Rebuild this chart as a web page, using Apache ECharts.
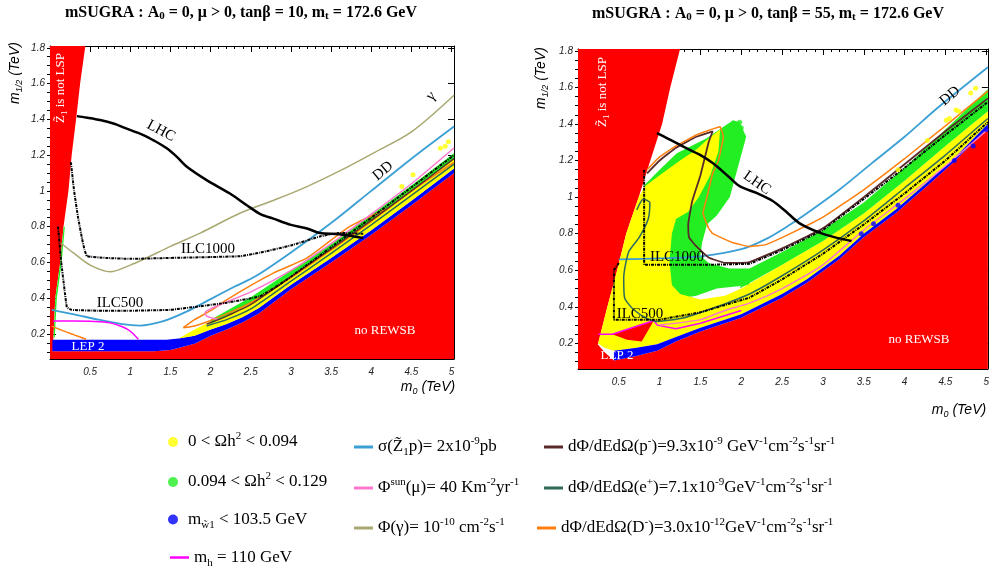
<!DOCTYPE html>
<html>
<head>
<meta charset="utf-8">
<script src="https://cdn.jsdelivr.net/npm/echarts@6/dist/echarts.min.js"></script>
<style>
html, body { margin: 0; background: #fff; }
#main { width: 992px; height: 576px; }
</style>
</head>
<body>
<div id="main"></div>
<script>
// ---- tick labels ----
var yMajor = [0.2, 0.4, 0.6, 0.8, 1.0, 1.2, 1.4, 1.6, 1.8];
var yMinor = [0.1, 0.15, 0.2, 0.25, 0.3, 0.35, 0.4, 0.45, 0.5, 0.55, 0.6, 0.65, 0.7, 0.75, 0.8, 0.85,
  0.9, 0.95, 1.0, 1.05, 1.1, 1.15, 1.2, 1.25, 1.3, 1.35, 1.4, 1.45, 1.5, 1.55, 1.6, 1.65, 1.7, 1.75, 1.8];
var xMax = [5.03, 5.02];

// ---- left panel (tan beta = 10) ----
var redWedgeL = [[0,0.1],[0,1.81],[0.44,1.81],[0.375,1.6],[0.33,1.42],[0.27,1.2],[0.23,1.0],[0.168,0.8],[0.127,0.6],[0.065,0.4],[0.044,0.2],[0.035,0.1]];
var redLowL = [[0,0.06],[0,0.104],[1.3,0.104],[1.5,0.11],[1.8,0.145],[2.0,0.19],[2.2,0.225],[2.4,0.265],[2.6,0.315],[3.0,0.45],[3.5,0.6],[4.0,0.755],[4.5,0.92],[5.03,1.1],[5.03,0.06]];
var blueL = [[0.03,0.104],[0.03,0.168],[1.45,0.168],[1.6,0.175],[1.8,0.19],[2.0,0.225],[2.2,0.255],[2.4,0.295],[2.6,0.345],[3.0,0.475],[3.5,0.625],[4.0,0.78],[4.5,0.945],[5.03,1.125],[5.03,1.1],[4.5,0.92],[4.0,0.755],[3.5,0.6],[3.0,0.45],[2.6,0.315],[2.4,0.265],[2.2,0.225],[2.0,0.19],[1.8,0.145],[1.5,0.11],[1.3,0.104]];
var yellowL = [[1.6,0.175],[1.8,0.19],[2.0,0.225],[2.2,0.255],[2.4,0.295],[2.6,0.345],[3.0,0.475],[3.5,0.625],[4.0,0.78],[4.5,0.945],[5.03,1.125],[5.03,1.2],[4.5,1.02],[4.0,0.855],[3.5,0.695],[3.0,0.545],[2.6,0.42],[2.4,0.36],[2.2,0.31],[2.0,0.27],[1.8,0.225]];
var greenL = [[2.0,0.255],[2.5,0.375],[3.0,0.525],[3.5,0.675],[4.0,0.835],[4.5,1.0],[5.03,1.18],[5.03,1.21],[4.5,1.03],[4.0,0.865],[3.5,0.705],[3.0,0.555],[2.5,0.405],[2.0,0.28]];
var greenEdgeL = [[0.045,0.18],[0.066,0.4],[0.128,0.6],[0.17,0.8],[0.185,0.8],[0.145,0.6],[0.085,0.4],[0.06,0.18]];

var lhcL = [[0.335,1.418],[0.45,1.41],[0.624,1.396],[0.8,1.375],[0.914,1.355],[1.163,1.312],[1.3,1.28],[1.454,1.238],[1.58,1.19],[1.7,1.136],[1.95,1.06],[2.24,0.985],[2.45,0.92],[2.62,0.87],[2.78,0.845],[3.0,0.81],[3.2,0.79],[3.36,0.764],[3.6,0.758],[3.9,0.737]];
var ilc1000L = [[0.26,1.16],[0.3,1.0],[0.35,0.85],[0.4,0.73],[0.43,0.67],[0.46,0.635],[0.7,0.625],[1.0,0.62],[1.5,0.625],[2.0,0.63],[2.37,0.635],[2.61,0.654],[3.0,0.695],[3.36,0.745],[3.6,0.765],[3.9,0.76]];
var ilc500L = [[0.1,0.8],[0.14,0.6],[0.18,0.45],[0.21,0.35],[0.27,0.335],[0.6,0.33],[1.0,0.33],[1.5,0.335],[1.87,0.355],[2.2,0.375],[2.61,0.41],[2.8,0.46],[3.0,0.52],[3.5,0.685],[4.0,0.85],[4.5,1.02],[5.03,1.2]];
var gammaL = [[0.13,0.71],[0.3,0.65],[0.5,0.585],[0.75,0.548],[1.0,0.585],[1.2,0.625],[1.5,0.69],[1.87,0.764],[2.37,0.876],[2.8,0.95],[3.2,1.024],[3.6,1.11],[4.02,1.21],[4.5,1.33],[5.03,1.535]];
var ddL = [[0.02,0.335],[0.3,0.31],[0.6,0.28],[0.9,0.255],[1.12,0.247],[1.4,0.27],[1.7,0.325],[2.0,0.395],[2.3,0.465],[2.57,0.525],[3.0,0.655],[3.5,0.82],[4.0,1.0],[4.5,1.18],[5.03,1.36]];
var mhL = [[0.04,0.272],[0.3,0.272],[0.55,0.27],[0.75,0.262],[0.9,0.24],[1.0,0.215],[1.1,0.17]];
var orangeL1 = [[0.02,0.244],[0.15,0.22],[0.3,0.195],[0.45,0.17]];
var orangeL2 = [[4.2,0.9],[3.73,0.8],[3.2,0.625],[2.78,0.54],[2.41,0.448],[2.2,0.39],[2.0,0.33],[1.8,0.28],[1.66,0.235],[1.8,0.245],[2.0,0.275],[2.5,0.375],[3.0,0.515],[3.5,0.67],[4.0,0.83],[4.5,1.0],[5.03,1.16]];
var pinkL = [[2.1,0.28],[1.95,0.3],[1.93,0.32],[2.1,0.36],[2.5,0.435],[3.0,0.555],[3.5,0.705],[4.0,0.87],[4.5,1.04],[5.03,1.24]];
var tealL = [[1.95,0.245],[2.2,0.28],[2.5,0.34],[3.0,0.495],[3.5,0.65],[4.0,0.81],[4.5,0.975],[5.03,1.15]];
var brownL = [[1.95,0.255],[2.2,0.3],[2.5,0.365],[3.0,0.52],[3.5,0.675],[4.0,0.835],[4.5,1.0],[5.03,1.18]];
var yDotsL = [[4.38,1.024],[4.52,1.09],[4.86,1.238],[4.96,1.275],[4.92,1.25]];

// ---- right panel (tan beta = 55) ----
var redWedgeR = [[0,0.19],[0,1.81],[1.25,1.81],[1.13,1.6],[1.03,1.4],[0.886,1.2],[0.744,1.0],[0.59,0.8],[0.48,0.6],[0.36,0.4],[0.246,0.2],[0.24,0.19]];
var redLowR = [[0,0.06],[0,0.2],[0.24,0.195],[0.33,0.15],[0.44,0.107],[0.7,0.13],[0.97,0.16],[1.2,0.21],[1.5,0.265],[2.0,0.34],[2.5,0.45],[2.8,0.53],[3.2,0.66],[3.5,0.78],[3.9,0.915],[4.3,1.07],[4.6,1.19],[5.02,1.38],[5.02,0.06]];
var redTriR = [[0.42,0.25],[0.93,0.325],[0.78,0.21],[0.6,0.22]];
var blueR = [[0.44,0.107],[0.44,0.16],[0.7,0.175],[0.97,0.195],[1.2,0.235],[1.5,0.285],[2.0,0.36],[2.5,0.47],[2.8,0.55],[3.2,0.68],[3.5,0.8],[3.9,0.935],[4.3,1.09],[4.6,1.21],[5.02,1.4],[5.02,1.38],[4.6,1.19],[4.3,1.07],[3.9,0.915],[3.5,0.78],[3.2,0.66],[2.8,0.53],[2.5,0.45],[2.0,0.34],[1.5,0.265],[1.2,0.21],[0.97,0.16],[0.7,0.13]];
var greenFunnelR = [[0.8,1.06],[1.0,1.15],[1.21,1.24],[1.57,1.32],[1.9,1.42],[1.98,1.41],[2.06,1.33],[1.95,1.15],[1.86,1.0],[1.7,0.9],[1.58,0.85],[1.52,0.75],[1.5,0.68],[1.6,0.64],[1.85,0.61],[2.1,0.61],[2.1,0.52],[1.7,0.5],[1.45,0.46],[1.3,0.45],[1.15,0.5],[1.1,0.65],[1.13,0.85],[1.2,0.95],[0.95,1.02]];
var yellowR = [[0.246,0.2],[0.36,0.4],[0.48,0.6],[0.59,0.8],[0.744,1.0],[0.82,1.06],[1.0,1.12],[1.25,1.2],[1.45,1.26],[1.6,1.32],[1.74,1.37],[1.72,1.25],[1.62,1.12],[1.48,1.0],[1.35,0.92],[1.2,0.88],[1.15,0.8],[1.12,0.65],[1.15,0.52],[1.25,0.47],[1.5,0.44],[1.8,0.46],[2.0,0.5],[2.5,0.63],[3.0,0.76],[3.5,0.91],[4.0,1.09],[4.5,1.28],[5.02,1.47],[5.02,1.4],[4.6,1.21],[4.3,1.09],[3.9,0.935],[3.5,0.8],[3.2,0.68],[2.8,0.55],[2.5,0.47],[2.0,0.36],[1.5,0.285],[1.2,0.235],[0.97,0.195],[0.7,0.175],[0.44,0.16],[0.33,0.175]];
var greenBandR = [[1.98,0.5],[2.5,0.63],[3.0,0.76],[3.5,0.91],[4.0,1.09],[4.5,1.28],[5.02,1.47],[5.02,1.59],[4.5,1.37],[4.0,1.16],[3.5,0.97],[3.0,0.82],[2.5,0.7],[2.1,0.61]];

var lhcR = [[0.967,1.35],[1.1,1.32],[1.29,1.276],[1.5,1.23],[1.65,1.186],[1.85,1.11],[1.98,1.06],[2.2,1.02],[2.38,0.98],[2.55,0.92],[2.71,0.858],[2.95,0.807],[3.15,0.78],[3.35,0.76]];
var ddR = [[0.5,0.66],[1.0,0.665],[1.5,0.676],[2.0,0.715],[2.3,0.77],[2.6,0.85],[2.8,0.91],[3.2,1.04],[3.6,1.186],[4.0,1.33],[4.41,1.49],[5.02,1.71]];
var ilc1000R = [[0.81,1.15],[0.81,0.9],[0.81,0.63],[1.2,0.63],[1.6,0.63],[2.1,0.635],[2.5,0.71],[3.0,0.82],[3.5,0.99],[4.0,1.16],[4.5,1.34],[5.02,1.52]];
var ilc500R = [[0.5,0.64],[0.44,0.6],[0.44,0.33],[0.7,0.33],[1.0,0.33],[1.5,0.37],[2.1,0.45],[2.5,0.55],[3.0,0.69],[3.5,0.85],[4.0,1.02],[4.5,1.2],[5.02,1.41]];
var tealR = [[0.72,0.93],[0.8,0.99],[0.88,0.97],[0.86,0.88],[0.75,0.78],[0.62,0.7],[0.56,0.56],[0.57,0.45],[0.68,0.385],[0.85,0.335],[0.97,0.32],[1.3,0.34],[1.7,0.4],[2.1,0.47],[2.5,0.57],[3.0,0.71],[3.5,0.87],[4.0,1.05],[4.5,1.23],[5.02,1.43]];
var brownR = [[0.846,1.13],[1.0,1.2],[1.2,1.27],[1.45,1.33],[1.65,1.36],[1.6,1.3],[1.5,1.12],[1.4,0.98],[1.35,0.85],[1.36,0.78],[1.45,0.73],[1.6,0.67],[1.8,0.64],[2.1,0.645],[2.5,0.72],[3.0,0.83],[3.5,1.0],[4.0,1.18],[4.5,1.36],[5.02,1.54]];
var orangeR = [[0.846,1.15],[1.0,1.22],[1.2,1.28],[1.45,1.34],[1.74,1.385],[1.78,1.33],[1.72,1.2],[1.65,1.13],[1.58,1.0],[1.53,0.913],[1.6,0.83],[1.65,0.8],[1.9,0.75],[2.1,0.73],[2.3,0.74],[2.6,0.8],[3.0,0.89],[3.5,1.04],[4.0,1.21],[4.5,1.39],[5.02,1.58]];
var pinkR = [[1.0,0.3],[1.5,0.33],[1.8,0.38],[2.1,0.42],[2.5,0.5],[3.0,0.63],[3.5,0.82],[4.0,0.99],[4.5,1.17],[5.02,1.37]];
var mhR = [[0.25,0.25],[0.42,0.25],[0.93,0.325],[0.97,0.3],[1.2,0.28],[1.5,0.31],[2.0,0.38]];
var yDotsR = [[3.92,1.15],[4.28,1.31],[4.51,1.42],[4.55,1.43],[4.63,1.476],[4.66,1.47],[4.81,1.57],[4.87,1.595]];
var bDotsR = [[3.47,0.8],[3.62,0.855],[3.92,0.955],[4.61,1.2],[4.84,1.28],[5.0,1.37]];
var gDotsR = [[1.98,1.41],[2.0,1.38]];

var SERIF = 'Liberation Serif';
var SANS = 'Liberation Sans';
var C = {
  red: '#ff0000', blue: '#0000ff', yellow: '#ffff00', green: '#22ee22',
  dd: '#3a9fd4', gamma: '#a9a872', pink: '#ff77cc', mh: '#ff00ff',
  brown: '#5b2b2b', teal: '#2f6a58', orange: '#ff7f0e', black: '#000'
};

function poly(name, pts, color, gi, z) {
  return {
    type: 'custom', name: name, coordinateSystem: 'cartesian2d',
    xAxisIndex: gi * 2, yAxisIndex: gi * 4, data: pts, encode: {x: 0, y: 1},
    clip: true, silent: true, z: z || 1,
    renderItem: function (params, api) {
      if (params.dataIndex !== 0) return null;
      return {
        type: 'polygon',
        shape: {points: pts.map(function (p) { return api.coord(p); })},
        style: {fill: color}
      };
    }
  };
}

function line(name, pts, color, gi, width, dash, smooth) {
  return {
    type: 'line', name: name, xAxisIndex: gi * 2, yAxisIndex: gi * 4, data: pts,
    symbol: 'none', showSymbol: false, silent: true, z: 5, clip: true,
    smooth: smooth || 0, color: color,
    lineStyle: {color: color, width: width || 1.5, type: dash || 'solid'}
  };
}

function dots(name, pts, color, gi) {
  return {
    type: 'scatter', name: name, xAxisIndex: gi * 2, yAxisIndex: gi * 4, data: pts,
    symbolSize: 5, silent: true, z: 6, color: color, itemStyle: {color: color}
  };
}

var tickLabel = {fontFamily: SANS, fontStyle: 'italic', fontSize: 10, color: '#222'};

function xAxes(gi) {
  var base = {
    gridIndex: gi, type: 'value', min: 0, max: xMax[gi], interval: 0.5,
    axisLine: {show: true, onZero: false, lineStyle: {color: '#000', width: 1}},
    axisTick: {show: true, inside: true, length: 6, lineStyle: {color: '#000'}},
    minorTick: {show: true, splitNumber: 5, length: 3, lineStyle: {color: '#000'}},
    splitLine: {show: false}, minorSplitLine: {show: false}
  };
  var bottom = Object.assign({}, base, {
    position: 'bottom',
    axisLabel: Object.assign({}, tickLabel, {
      margin: 8,
      formatter: function (v) {
        return (v > 0 && Math.abs(v * 2 - Math.round(v * 2)) < 1e-6) ? String(v) : '';
      }
    })
  });
  var top = Object.assign({}, base, {position: 'top', axisLabel: {show: false}});
  return [bottom, top];
}

function yAxes(gi) {
  var base = {
    gridIndex: gi, type: 'value', min: 0.06, max: 1.81,
    splitLine: {show: false}, axisLabel: {show: false}
  };
  var ax = [];
  ['left', 'right'].forEach(function (pos) {
    ax.push(Object.assign({}, base, {
      position: pos,
      axisLine: {show: true, onZero: false, lineStyle: {color: '#000', width: 1}},
      axisTick: {show: true, inside: true, length: 6, customValues: yMajor, lineStyle: {color: '#000'}},
      axisLabel: pos === 'left'
        ? Object.assign({}, tickLabel, {show: true, margin: 5, customValues: yMajor, formatter: function (v) { return String(+v.toFixed(1)); }})
        : {show: false}
    }));
    ax.push(Object.assign({}, base, {
      position: pos,
      axisLine: {show: false},
      axisTick: {show: true, inside: true, length: 3, customValues: yMinor, lineStyle: {color: '#000'}}
    }));
  });
  return ax;
}

var series = [
  // left panel
  poly('redWedgeL', redWedgeL, C.red, 0, 1),
  poly('redLowL', redLowL, C.red, 0, 1),
  poly('blueL', blueL, C.blue, 0, 2),
  poly('yellowL', yellowL, C.yellow, 0, 2),
  poly('greenL', greenL, C.green, 0, 3),
  poly('greenEdgeL', greenEdgeL, C.green, 0, 3),
  line('ga', gammaL, C.gamma, 0, 1.5, 'solid', 0.3),
  line('dd', ddL, C.dd, 0, 1.8, 'solid', 0.3),
  line('mh', mhL, C.mh, 0, 1.5, 'solid', 0.3),
  line('db', orangeL1, C.orange, 0, 1.5, 'solid', 0.3),
  line('db', orangeL2, C.orange, 0, 1.5, 'solid', 0.2),
  line('mu', pinkL, C.pink, 0, 1.5, 'solid', 0.2),
  line('ep', tealL, C.teal, 0, 1.5, 'solid', 0.2),
  line('pb', brownL, C.brown, 0, 1.5, 'solid', 0.2),
  line('ilc1000L', ilc1000L, C.black, 0, 2, [3, 1, 1, 1], 0.1),
  line('ilc500L', ilc500L, C.black, 0, 2, [3, 1, 1, 1], 0.1),
  line('lhcL', lhcL, C.black, 0, 2.5, 'solid', 0.3),
  dots('y1', yDotsL, C.yellow, 0),
  // right panel
  poly('redWedgeR', redWedgeR, C.red, 1, 1),
  poly('redLowR', redLowR, C.red, 1, 1),
  poly('greenFunnelR', greenFunnelR, C.green, 1, 2),
  poly('yellowR', yellowR, C.yellow, 1, 3),
  poly('blueR', blueR, C.blue, 1, 3),
  poly('redTriR', redTriR, C.red, 1, 4),
  poly('greenBandR', greenBandR, C.green, 1, 4),
  line('dd', ddR, C.dd, 1, 1.8, 'solid', 0.3),
  line('mh', mhR, C.mh, 1, 1.5, 'solid', 0),
  line('mu', pinkR, C.pink, 1, 1.5, 'solid', 0.2),
  line('ep', tealR, C.teal, 1, 1.5, 'solid', 0.2),
  line('pb', brownR, C.brown, 1, 1.8, 'solid', 0.1),
  line('db', orangeR, C.orange, 1, 1.5, 'solid', 0.1),
  line('ilc1000R', ilc1000R, C.black, 1, 2, [3, 1, 1, 1], 0),
  line('ilc500R', ilc500R, C.black, 1, 2, [3, 1, 1, 1], 0),
  line('lhcR', lhcR, C.black, 1, 2.5, 'solid', 0.3),
  dots('y1', yDotsR, C.yellow, 1),
  dots('b1', bDotsR, C.blue, 1),
  dots('g1', gDotsR, C.green, 1)
];

// legend texts (rich)
var legendText = {
  y1: '{t|0 < Ωh}{sup|2}{t| < 0.094}',
  g1: '{t|0.094 < Ωh}{sup|2}{t| < 0.129}',
  b1: '{t|m}{sub|w̃1}{t| < 103.5 GeV}',
  mh: '{t|m}{sub|h}{t| = 110 GeV}',
  dd: '{t|σ(Z̃}{sub|1}{t|p)= 2x10}{sup|-9}{t|pb}',
  mu: '{t|Φ}{sup|sun}{t|(μ)= 40 Km}{sup|-2}{t|yr}{sup|-1}',
  ga: '{t|Φ(γ)= 10}{sup|-10}{t| cm}{sup|-2}{t|s}{sup|-1}',
  pb: '{t|dΦ/dEdΩ(p}{sup|-}{t|)=9.3x10}{sup|-9}{t| GeV}{sup|-1}{t|cm}{sup|-2}{t|s}{sup|-1}{t|sr}{sup|-1}',
  ep: '{t|dΦ/dEdΩ(e}{sup|+}{t|)=7.1x10}{sup|-9}{t|GeV}{sup|-1}{t|cm}{sup|-2}{t|s}{sup|-1}{t|sr}{sup|-1}',
  db: '{t|dΦ/dEdΩ(D}{sup|-}{t|)=3.0x10}{sup|-12}{t|GeV}{sup|-1}{t|cm}{sup|-2}{t|s}{sup|-1}{t|sr}{sup|-1}'
};
var richLegend = {
  t: {fontFamily: SERIF, fontSize: 17, lineHeight: 22, verticalAlign: 'middle', color: '#000'},
  sup: {fontFamily: SERIF, fontSize: 11, lineHeight: 11, verticalAlign: 'top', color: '#000'},
  sub: {fontFamily: SERIF, fontSize: 11, lineHeight: 11, verticalAlign: 'bottom', color: '#000'}
};
function legend(name, left, top, icon, w, h) {
  return {
    data: [name], left: left, top: top, padding: 0,
    icon: icon, itemWidth: w, itemHeight: h, selectedMode: false,
    formatter: function (n) { return legendText[n]; },
    textStyle: {rich: richLegend}
  };
}

// text annotations
var richPlot = {
  w: {fontFamily: SERIF, fontSize: 13, lineHeight: 16, verticalAlign: 'middle', fill: '#fff'},
  ws: {fontFamily: SERIF, fontSize: 9, lineHeight: 8, verticalAlign: 'bottom', fill: '#fff'},
  k: {fontFamily: SERIF, fontSize: 15, lineHeight: 16, verticalAlign: 'middle', fill: '#000'},
  i: {fontFamily: SANS, fontStyle: 'italic', fontSize: 14, lineHeight: 18, verticalAlign: 'middle', fill: '#000'},
  is: {fontFamily: SANS, fontStyle: 'italic', fontSize: 9, lineHeight: 9, verticalAlign: 'bottom', fill: '#000'},
  b: {fontFamily: SERIF, fontWeight: 'bold', fontSize: 16, lineHeight: 18, verticalAlign: 'middle', fill: '#000'},
  bs: {fontFamily: SERIF, fontWeight: 'bold', fontSize: 11, lineHeight: 9, verticalAlign: 'bottom', fill: '#000'}
};
function txt(text, x, y, rot) {
  return {
    type: 'text', x: x, y: y, rotation: rot || 0, silent: true, z: 50,
    style: {text: text, rich: richPlot, align: 'center', verticalAlign: 'middle'}
  };
}
var D = Math.PI / 180;
var graphics = [
  txt('{b|mSUGRA : A}{bs|0}{b| = 0, μ > 0, tanβ = 10, m}{bs|t}{b| = 172.6 GeV}', 241, 13),
  txt('{b|mSUGRA : A}{bs|0}{b| = 0, μ > 0, tanβ = 55, m}{bs|t}{b| = 172.6 GeV}', 768, 14),
  txt('{i|m}{is|1/2}{i| (TeV)}', 15, 73, 90 * D),
  txt('{i|m}{is|1/2}{i| (TeV)}', 541, 78, 90 * D),
  txt('{i|m}{is|0}{i| (TeV)}', 428, 387),
  txt('{i|m}{is|0}{i| (TeV)}', 959, 410),
  txt('{w|Z̃}{ws|1}{w| is not LSP}', 61, 88, 90 * D),
  txt('{w|Z̃}{ws|1}{w| is not LSP}', 603, 92, 90 * D),
  txt('{k|LHC}', 161, 131, -28 * D),
  txt('{k|LHC}', 757, 183, -35 * D),
  txt('{k|DD}', 383, 171, 40 * D),
  txt('{k|DD}', 950, 96, 40 * D),
  txt('{k|γ}', 431, 96, 45 * D),
  txt('{k|ILC1000}', 208, 249),
  txt('{k|ILC500}', 120, 303),
  txt('{k|ILC1000}', 677, 257),
  txt('{k|ILC500}', 640, 314),
  txt('{w|LEP 2}', 88, 347),
  txt('{w|LEP 2}', 617, 356),
  txt('{w|no REWSB}', 385, 331),
  txt('{w|no REWSB}', 919, 340)
];

var chart = echarts.init(document.getElementById('main'), null, {renderer: 'canvas'});
chart.setOption({
  animation: false,
  backgroundColor: '#fff',
  grid: [
    {left: 50, top: 46, width: 404, height: 313},
    {left: 578, top: 49, width: 412, height: 320}
  ],
  xAxis: xAxes(0).concat(xAxes(1)),
  yAxis: yAxes(0).concat(yAxes(1)),
  legend: [
    legend('y1', 168, 431, 'circle', 20, 10),
    legend('g1', 168, 471, 'circle', 20, 10),
    legend('b1', 168, 511, 'circle', 20, 10),
    legend('mh', 170, 549, 'rect', 19, 2.5),
    legend('dd', 354, 436, 'rect', 19, 3),
    legend('mu', 354, 477, 'rect', 19, 3),
    legend('ga', 354, 517, 'rect', 19, 3),
    legend('pb', 544, 436, 'rect', 19, 3),
    legend('ep', 544, 477, 'rect', 19, 3),
    legend('db', 537, 517, 'rect', 19, 3)
  ],
  series: series,
  graphic: graphics
});
</script>
</body>
</html>
